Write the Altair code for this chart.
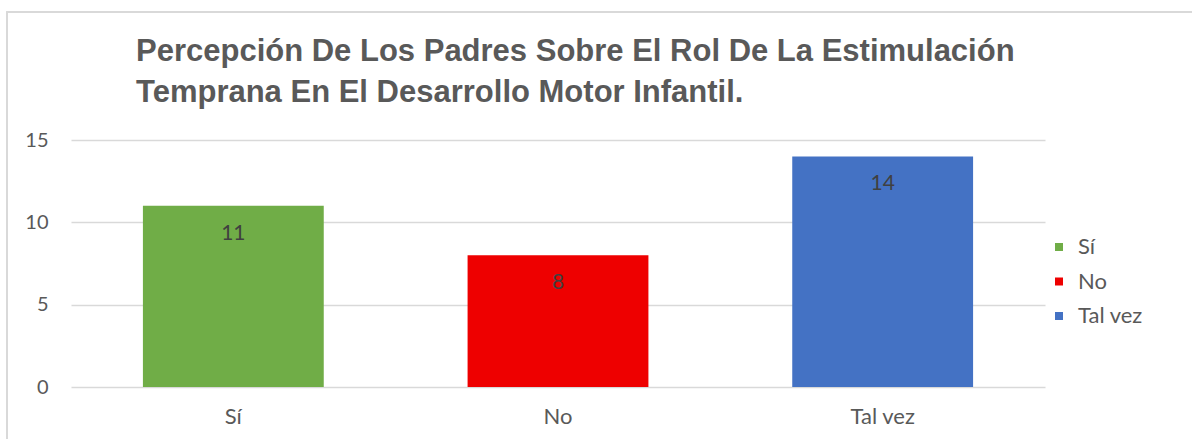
import altair as alt
import pandas as pd

categories = ["Sí", "No", "Tal vez"]
values = [11, 8, 14]
colors = ["#70AD47", "#EE0000", "#4472C4"]
title_lines = ["Percepción De Los Padres Sobre El Rol De La Estimulación",
               "Temprana En El Desarrollo Motor Infantil."]

df = pd.DataFrame({"cat": categories, "val": values})
title_df = pd.DataFrame({"line": title_lines})

FONT = "Lato"

x_enc = alt.X("cat:N", sort=categories, title=None,
              scale=alt.Scale(paddingInner=0.443, paddingOuter=0.2215),
              axis=alt.Axis(labelAngle=0, domain=False, ticks=False, labelFontSize=22,
                            labelColor="#595959", labelFont=FONT, labelPadding=19))
y_enc = alt.Y("val:Q", title=None,
              scale=alt.Scale(domain=[0, 15], nice=False),
              axis=alt.Axis(values=[0, 5, 10, 15], domain=False, ticks=False, labelFontSize=20,
                            labelColor="#595959", labelFont=FONT, labelPadding=23,
                            gridColor="#d9d9d9", gridWidth=1.3))

border = alt.Chart(df).mark_rect(fill=None, stroke="#d9d9d9", strokeWidth=1.5).encode(
    x=alt.value(-64), x2=alt.value(1300), y=alt.value(-128), y2=alt.value(500)
)

title1 = alt.Chart(title_df).transform_filter(
    alt.datum.line == title_lines[0]
).mark_text(align="left", baseline="alphabetic", font="Liberation Sans", fontSize=31,
            fontWeight="bold", color="#595959").encode(
    x=alt.value(65), y=alt.value(-79), text="line:N"
)
title2 = alt.Chart(title_df).transform_filter(
    alt.datum.line == title_lines[1]
).mark_text(align="left", baseline="alphabetic", font="Liberation Sans", fontSize=31,
            fontWeight="bold", color="#595959").encode(
    x=alt.value(65), y=alt.value(-38.5), text="line:N"
)

bars = alt.Chart(df).mark_bar().encode(
    x=x_enc, y=y_enc,
    color=alt.Color("cat:N", sort=categories,
                    scale=alt.Scale(domain=categories, range=colors),
                    legend=alt.Legend(title=None, orient="none", legendX=977, legendY=96,
                                      symbolType="square", symbolSize=64, labelFontSize=22,
                                      labelFont=FONT, labelColor="#595959", rowPadding=12.5,
                                      padding=0, labelOffset=8, symbolStrokeWidth=0)),
)

labels = alt.Chart(df).mark_text(baseline="middle", dy=28, fontSize=21, color="#404040",
                                 font=FONT).encode(
    x=alt.X("cat:N", sort=categories), y="val:Q", text="val:Q"
)

chart = alt.layer(border, title1, title2, bars, labels).properties(
    width=974, height=247,
    autosize=alt.AutoSizeParams(type="none"),
    padding={"left": 71, "top": 140, "right": 147, "bottom": 52},
).configure_view(stroke=None)

chart.save("out.html", embed_options={"renderer": "svg", "actions": False})
